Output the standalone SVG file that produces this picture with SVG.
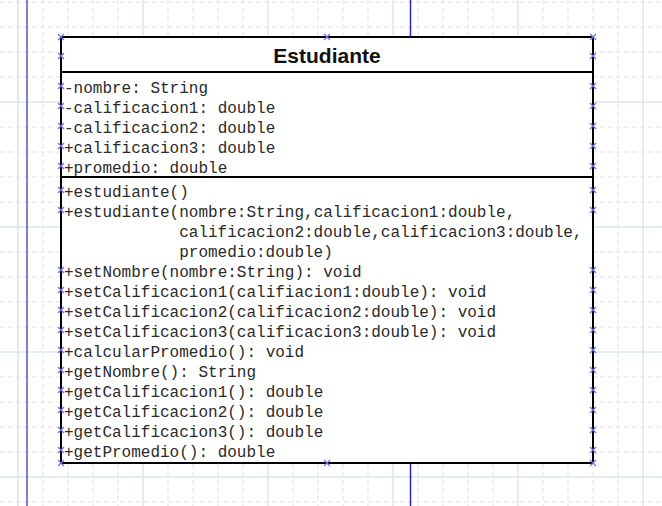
<svg xmlns="http://www.w3.org/2000/svg" width="662" height="506" viewBox="0 0 662 506">
<style>
.gd{stroke:#dbe6e6;stroke-width:1;stroke-dasharray:5,3;fill:none}
.gs{stroke:#dde8e8;stroke-width:1.5;fill:none}
.box{fill:#ffffff;stroke:#000000;stroke-width:2}
.sep{stroke:#000000;stroke-width:2}
.title{font-family:"Liberation Sans",Arial,sans-serif;font-size:21px;font-weight:bold;fill:#111111}
.m{font-family:"Liberation Mono","Courier New",monospace;font-size:16px;fill:#2a2a2a}
.mk{stroke:#6c6ce4;stroke-width:1.1;fill:none}
</style>
<defs>
<path id="x" d="M-3,-3L3,3M-3,3L3,-3"/>
</defs>
<rect x="0" y="0" width="662" height="506" fill="#ffffff"/>
<g id="grid">
<path class="gd" d="M18,0V506M43,0V506M68,0V506M93,0V506M118,0V506M168,0V506M193,0V506M218,0V506M243,0V506M293,0V506M318,0V506M343,0V506M368,0V506M418,0V506M443,0V506M468,0V506M493,0V506M543,0V506M568,0V506M593,0V506M618,0V506"/>
<path class="gd" d="M0,2H662M0,27H662M0,52H662M0,77H662M0,127H662M0,152H662M0,177H662M0,202H662M0,252H662M0,277H662M0,302H662M0,327H662M0,377H662M0,402H662M0,427H662M0,452H662M0,502H662"/>
<path class="gs" d="M18,0V506M143,0V506M268,0V506M393,0V506M518,0V506M643,0V506M0,102H662M0,227H662M0,352H662M0,477H662"/>
</g>
<g id="guides">
<line x1="27" y1="0" x2="27" y2="506" stroke="#5252c8" stroke-width="1.5"/>
<line x1="410.5" y1="0" x2="410.5" y2="37" stroke="#2626c4" stroke-width="1.5"/>
<line x1="410.5" y1="463" x2="410.5" y2="506" stroke="#2626c4" stroke-width="1.5"/>
</g>
<g id="connectors"></g>
<g id="estudiante">
<rect class="box" x="61" y="37" width="532" height="426"/>
<line class="sep" x1="61" y1="72" x2="593" y2="72"/>
<line class="sep" x1="61" y1="177" x2="593" y2="177"/>
<text class="title" x="327" y="63" text-anchor="middle">Estudiante</text>
<text class="m" x="64" y="92.5">-nombre: String</text>
<text class="m" x="64" y="112.5">-calificacion1: double</text>
<text class="m" x="64" y="132.5">-calificacion2: double</text>
<text class="m" x="64" y="152.5">+calificacion3: double</text>
<text class="m" x="64" y="172.5">+promedio: double</text>
<text class="m" x="64" y="196.5">+estudiante()</text>
<text class="m" x="64" y="216.5">+estudiante(nombre:String,calificacion1:double,</text>
<text class="m" x="179.2" y="236.5">calificacion2:double,calificacion3:double,</text>
<text class="m" x="179.2" y="256.5">promedio:double)</text>
<text class="m" x="64" y="276.5">+setNombre(nombre:String): void</text>
<text class="m" x="64" y="296.5">+setCalificacion1(califiacion1:double): void</text>
<text class="m" x="64" y="316.5">+setCalificacion2(calificacion2:double): void</text>
<text class="m" x="64" y="336.5">+setCalificacion3(calificacion3:double): void</text>
<text class="m" x="64" y="356.5">+calcularPromedio(): void</text>
<text class="m" x="64" y="376.5">+getNombre(): String</text>
<text class="m" x="64" y="396.5">+getCalificacion1(): double</text>
<text class="m" x="64" y="416.5">+getCalificacion2(): double</text>
<text class="m" x="64" y="436.5">+getCalificacion3(): double</text>
<text class="m" x="64" y="456.5">+getPromedio(): double</text>
<g class="mk">
<use href="#x" x="61" y="37"/><use href="#x" x="61" y="56"/><use href="#x" x="61" y="86"/><use href="#x" x="61" y="106"/><use href="#x" x="61" y="126"/><use href="#x" x="61" y="146"/><use href="#x" x="61" y="166"/><use href="#x" x="61" y="190"/><use href="#x" x="61" y="210"/><use href="#x" x="61" y="270"/><use href="#x" x="61" y="290"/><use href="#x" x="61" y="310"/><use href="#x" x="61" y="330"/><use href="#x" x="61" y="350"/><use href="#x" x="61" y="370"/><use href="#x" x="61" y="390"/><use href="#x" x="61" y="410"/><use href="#x" x="61" y="430"/><use href="#x" x="61" y="450"/><use href="#x" x="61" y="463"/>
<use href="#x" x="593" y="37"/><use href="#x" x="593" y="56"/><use href="#x" x="593" y="86"/><use href="#x" x="593" y="106"/><use href="#x" x="593" y="126"/><use href="#x" x="593" y="146"/><use href="#x" x="593" y="166"/><use href="#x" x="593" y="190"/><use href="#x" x="593" y="210"/><use href="#x" x="593" y="270"/><use href="#x" x="593" y="290"/><use href="#x" x="593" y="310"/><use href="#x" x="593" y="330"/><use href="#x" x="593" y="350"/><use href="#x" x="593" y="370"/><use href="#x" x="593" y="390"/><use href="#x" x="593" y="410"/><use href="#x" x="593" y="430"/><use href="#x" x="593" y="450"/><use href="#x" x="593" y="463"/>
<use href="#x" x="327" y="37"/><use href="#x" x="327" y="463"/>
</g>
</g>
</svg>
